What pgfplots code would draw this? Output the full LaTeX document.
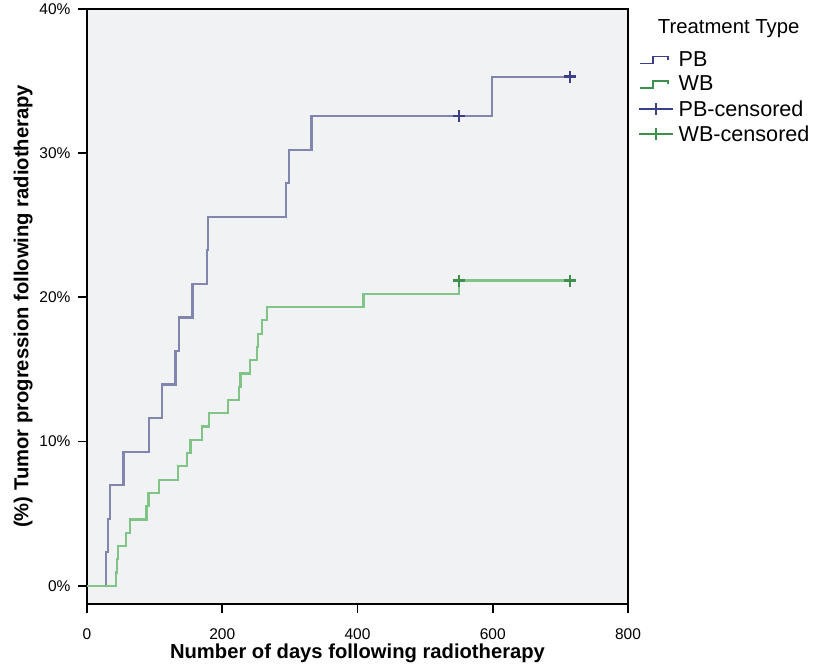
\documentclass[border=0pt]{standalone}
\usepackage{pgfplots}
\pgfplotsset{compat=1.18}
\usepackage{fontspec}
\setmainfont{Liberation Sans}
\definecolor{pbline}{HTML}{8285AE}
\definecolor{pbmark}{HTML}{3C3F86}
\definecolor{wbline}{HTML}{80C487}
\definecolor{wbmark}{HTML}{3F8F4E}
\definecolor{bgc}{HTML}{F1F2F4}
\begin{document}
\begin{tikzpicture}
\begin{axis}[
  scale only axis, width=541pt, height=595pt,
  xmin=0, xmax=800, ymin=-1.25, ymax=40,
  axis background/.style={fill=bgc},
  axis line style={line width=1.8pt},
  xtick={0,200,400,600,800}, ytick={0,10,20,30,40},
  xticklabels={0,200,400,600,800},
  yticklabels={0\%,10\%,20\%,30\%,40\%},
  xtick pos=lower, ytick pos=left,
  tick align=outside, major tick length=9pt,
  tick style={line width=1.8pt, black},
  ticklabel style={font=\fontsize{15.5}{18}\selectfont},
  xticklabel style={yshift=-12pt},
  yticklabel style={xshift=-4pt},
  xlabel={Number of days following radiotherapy},
  ylabel={(\%) Tumor progression following radiotherapy},
  xlabel style={yshift=2pt},
  ylabel style={yshift=0pt},
  label style={font=\fontsize{20.2}{24}\selectfont\bfseries},
  legend style={at={(rel axis cs:1.013,0.935)}, anchor=north west, draw=none, fill=none,
    font=\fontsize{21.6}{25}\selectfont, row sep=4pt, column sep=3pt, nodes={inner sep=2pt}},
  legend cell align=left,
  clip=false,
]
\addlegendimage{legend image code/.code={\draw[pbmark, line width=1.7pt] (1pt,-3.5pt) -- (14pt,-3.5pt) -- (14pt,3.5pt) -- (29pt,3.5pt) -- (29pt,0pt);}}
\addlegendentry{PB}
\addlegendimage{legend image code/.code={\draw[wbmark, line width=1.7pt] (1pt,-3.5pt) -- (14pt,-3.5pt) -- (14pt,3.5pt) -- (29pt,3.5pt) -- (29pt,0pt);}}
\addlegendentry{WB}
\addlegendimage{legend image code/.code={\draw[pbmark, line width=1.4pt] (0pt,0pt) -- (34pt,0pt); \draw[pbmark, line width=1.4pt] (17pt,-6pt) -- (17pt,6pt);}}
\addlegendentry{PB-censored}
\addlegendimage{legend image code/.code={\draw[wbmark, line width=1.4pt] (0pt,0pt) -- (34pt,0pt); \draw[wbmark, line width=1.4pt] (17pt,-6pt) -- (17pt,6pt);}}
\addlegendentry{WB-censored}

\addplot[const plot, pbline, line width=2.2pt, forget plot] coordinates {
(0,0) (28,2.33) (31,4.65) (34,6.98) (54,9.30) (92,11.63) (111,13.95) (131,16.28) (136,18.60) (156,20.93) (177,23.26) (179,25.58) (294,27.91) (299,30.23) (332,32.56) (599,35.3) (714,35.3)};
\addplot[const plot, wbline, line width=2.2pt, forget plot] coordinates {
(0,0) (43,0.92) (44,1.84) (46,2.76) (58,3.68) (64,4.60) (88,5.52) (91,6.44) (106,7.36) (135,8.28) (148,9.20) (153,10.12) (170,11.04) (180,11.96) (209,12.88) (225,13.80) (227,14.72) (241,15.64) (251,16.56) (253,17.48) (259,18.40) (266,19.32) (409,20.24) (550,21.16) (714,21.16)};
\addplot[only marks, mark=+, mark size=6pt, pbmark, mark options={line width=2.4pt}, forget plot] coordinates {(550,32.56) (714,35.3)};
\addplot[only marks, mark=+, mark size=6pt, wbmark, mark options={line width=2.4pt}, forget plot] coordinates {(550,21.16) (714,21.16)};
\node[anchor=west, inner sep=0pt, font=\fontsize{20.3}{24}\selectfont] at (rel axis cs:1.055,0.966) {Treatment Type};
\path ([xshift=-87pt,yshift=-59pt]rel axis cs:0,0) rectangle ([xshift=187pt,yshift=8pt]rel axis cs:1,1);
\end{axis}
\end{tikzpicture}
\end{document}
